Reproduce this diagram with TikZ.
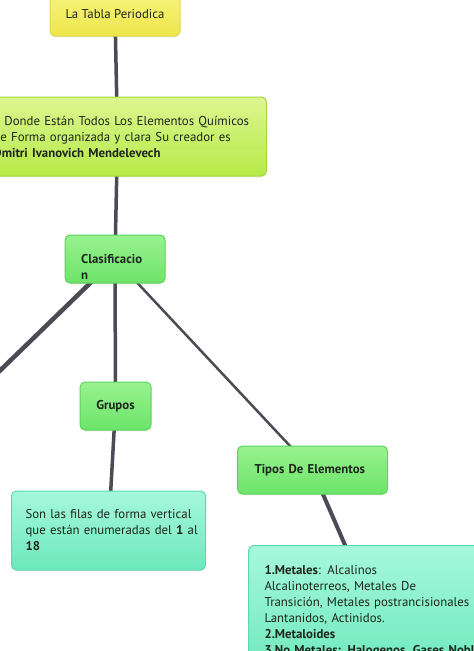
\documentclass[tikz,border=0pt]{standalone}
\usepackage{fontspec}
\setmainfont{PT Sans}
\usepackage{xcolor}
\usetikzlibrary{calc, backgrounds, shadows}

\definecolor{linegray}{HTML}{4B4B55}
\definecolor{inkdark}{HTML}{1E261E}
\definecolor{yellowtop}{HTML}{F8F47E}
\definecolor{yellowbot}{HTML}{EEE64A}
\definecolor{yellowrim}{HTML}{E2D846}
\definecolor{limetop}{HTML}{DDF690}
\definecolor{limebot}{HTML}{B5EA48}
\definecolor{limerim}{HTML}{A4D93E}
\definecolor{greentop}{HTML}{98F290}
\definecolor{greenbot}{HTML}{6CE468}
\definecolor{greenrim}{HTML}{5CD45A}
\definecolor{aquatop}{HTML}{A6F8DC}
\definecolor{aquabot}{HTML}{6CE8BD}
\definecolor{aquarim}{HTML}{5CD8AC}

\tikzset{
    box/.style={rounded corners=5pt, line width=1pt, inner ysep=0pt,
        text=inkdark, font=\fontsize{12.8}{16}\selectfont,
        drop shadow={opacity=0.12, shadow xshift=0pt, shadow yshift=-1.5pt}},
    yellowbox/.style={box, draw=yellowrim, top color=yellowtop, bottom color=yellowbot},
    limebox/.style={box, draw=limerim, top color=limetop, bottom color=limebot},
    greenbox/.style={box, draw=greenrim, top color=greentop, bottom color=greenbot},
    aquabox/.style={box, draw=aquarim, top color=aquatop, bottom color=aquabot},
    boldtext/.style={font=\bfseries\fontsize{12.8}{16}\selectfont},
    link/.style={draw=linegray, line cap=round}
}

\begin{document}
\begin{tikzpicture}[x=1pt, y=-1pt]
        \useasboundingbox (0,0) rectangle (474,651);
        \clip (0,0) rectangle (474,651);
        % boxes
        \node[yellowbox, minimum width=130, minimum height=44] (tabla) at (115,14) {La Tabla Periodica};
        \node[limebox, anchor=west, inner xsep=9pt, text width=264pt, minimum height=79, align=left] (donde) at (-16,136.5)
            {\hyphenpenalty=10000\hspace{11pt}Donde Están Todos Los Elementos Químicos\\
             de Forma organizada y clara Su creador es\\
             \textbf{Dmitri Ivanovich Mendelevech}};
        \node[greenbox, minimum width=100, minimum height=48] (clas) at (115,259) {};
        \node[boldtext, anchor=north west, inner sep=0pt, text=inkdark, align=left] (clastext) at (81,254.5) {Clasificacio\\n};
        \node[greenbox, boldtext, minimum width=71, minimum height=48] (grupos) at (115.5,406) {Grupos};
        \node[greenbox, boldtext, anchor=west, inner xsep=17pt, text width=116pt, minimum height=48, align=left] (tipos) at (237,470)
            {\hyphenpenalty=10000\raisebox{-1.5pt}{Tipos De Elementos}};
        \node[aquabox, anchor=west, inner xsep=14pt, text width=166pt, minimum height=79, align=left] (filas) at (11,530.5)
            {\mbox{Son las filas de forma vertical}\\
             \mbox{que están enumeradas del \textbf{1} al}\\
             \textbf{18}};
        \node[aquabox, anchor=north west, inner xsep=16pt, inner ysep=20pt, text width=250pt, align=left] (elem) at (248,545)
            {\hyphenpenalty=10000\textbf{1.Metales}: Alcalinos\\
             Alcalinoterreos, Metales De\\
             Transición, Metales postrancisionales\\
             Lantanidos, Actinidos.\\
             \textbf{2.Metaloides}\\
             \textbf{3.No Metales: Halogenos, Gases Nobles}};
        \coordinate (offleft) at (-20,390);
        % connectors
        \begin{scope}[on background layer]
            \draw[link, line width=3.5pt] (tabla.center) -- ([xshift=-8pt]donde.center);
            \draw[link, line width=3.5pt] ([xshift=-8pt]donde.center) -- (clas.center);
            \draw[link, line width=4.5pt] (clas.center) -- (offleft);
            \draw[link, line width=3.5pt] (clas.center) -- (grupos.center);
            \draw[link, line width=2.5pt] (clas.center) -- (tipos.center);
            \draw[link, line width=3.5pt] (grupos.center) -- (filas.center);
            \draw[link, line width=4pt] (tipos.center) -- ([xshift=97pt]elem.north west);
        \end{scope}
    \end{tikzpicture}
\end{document}
